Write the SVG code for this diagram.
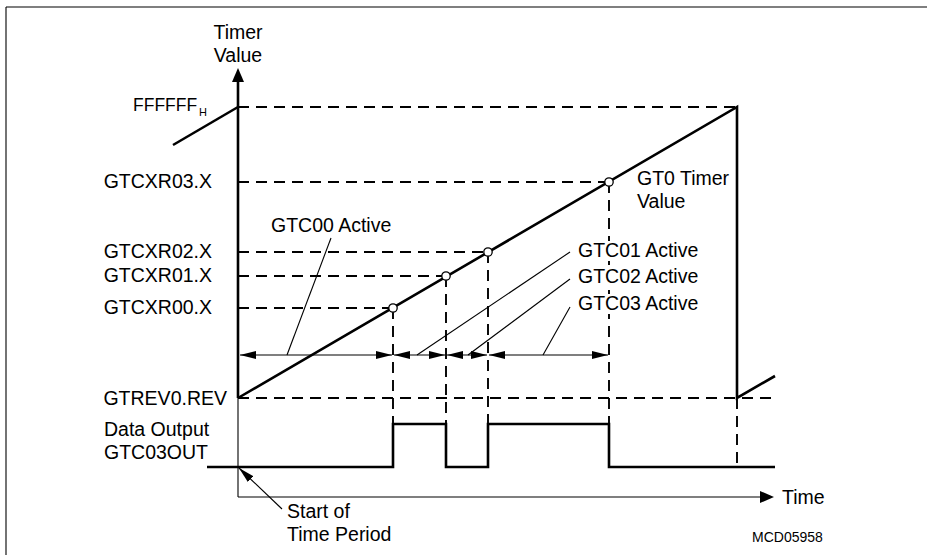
<svg xmlns="http://www.w3.org/2000/svg" width="927" height="555" viewBox="0 0 927 555">
<defs>
<style>
text{font-family:"Liberation Sans",Arial,sans-serif;font-size:19.5px;fill:#000}
.thick{stroke:#000;stroke-width:2.6;fill:none}
.thin{stroke:#000;stroke-width:1.1;fill:none}
.dash{stroke:#000;stroke-width:1.9;fill:none;stroke-dasharray:11 7}
.pt{fill:#fff;stroke:#000;stroke-width:1.3}
.ah{fill:#000}
.bg{fill:#fff;stroke:none}
</style>
<marker id="arr" viewBox="0 0 16 8" refX="16" refY="4" markerWidth="16" markerHeight="8" markerUnits="userSpaceOnUse" orient="auto-start-reverse">
<path d="M0,0 L16,4 L0,8 Z" fill="#000"/>
</marker>
</defs>
<g id="frame">
<line x1="6" y1="7" x2="927" y2="7" class="thin"/>
<line x1="6" y1="7" x2="6" y2="555" class="thin"/>
</g>
<g id="axes">
<line x1="238" y1="80" x2="238" y2="398" class="thick"/>
<path d="M238,68 L232,82 L244,82 Z" class="ah"/>
<line x1="238" y1="398" x2="238" y2="497" class="thin"/>
<line x1="238" y1="497" x2="762" y2="497" class="thin"/>
<path d="M774,497 L760,491 L760,503 Z" class="ah"/>
<text x="238" y="39" text-anchor="middle">Timer</text>
<text x="238" y="62" text-anchor="middle">Value</text>
<text x="782" y="504">Time</text>
</g>
<g id="levels">
<text x="133" y="111" style="font-size:17.5px">FFFFFF</text>
<text x="199" y="116" style="font-size:11px">H</text>
<text x="212" y="188" text-anchor="end">GTCXR03.X</text>
<text x="212" y="258" text-anchor="end">GTCXR02.X</text>
<text x="212" y="282" text-anchor="end">GTCXR01.X</text>
<text x="212" y="314" text-anchor="end">GTCXR00.X</text>
<text x="227" y="405" text-anchor="end">GTREV0.REV</text>
<text x="104" y="436">Data Output</text>
<text x="104" y="459">GTC03OUT</text>
</g>
<g id="connectors">
<line x1="238" y1="107" x2="737" y2="107" class="dash"/>
<line x1="238" y1="182" x2="609" y2="182" class="dash"/>
<line x1="238" y1="252" x2="488" y2="252" class="dash"/>
<line x1="238" y1="276" x2="446" y2="276" class="dash"/>
<line x1="238" y1="308" x2="393" y2="308" class="dash"/>
<line x1="238" y1="398" x2="775" y2="398" class="dash"/>
<line x1="393" y1="308" x2="393" y2="467" class="dash"/>
<line x1="446" y1="276" x2="446" y2="467" class="dash"/>
<line x1="488" y1="252" x2="488" y2="467" class="dash"/>
<line x1="609" y1="182" x2="609" y2="424" class="dash"/>
<line x1="737" y1="398" x2="737" y2="467" class="dash"/>
<line x1="240" y1="355" x2="392" y2="355" class="thin" marker-start="url(#arr)" marker-end="url(#arr)"/>
<line x1="394" y1="355" x2="445" y2="355" class="thin" marker-start="url(#arr)" marker-end="url(#arr)"/>
<line x1="447" y1="355" x2="487" y2="355" class="thin" marker-start="url(#arr)" marker-end="url(#arr)"/>
<line x1="489" y1="355" x2="608" y2="355" class="thin" marker-start="url(#arr)" marker-end="url(#arr)"/>
<line x1="331" y1="238" x2="287" y2="355" class="thin"/>
<line x1="570" y1="252" x2="417" y2="355" class="thin"/>
<line x1="570" y1="279" x2="468" y2="355" class="thin"/>
<line x1="570" y1="307" x2="543" y2="355" class="thin"/>
<line x1="282" y1="509" x2="239" y2="468" class="thin" marker-end="url(#arr)"/>
</g>
<g id="ramp">
<line x1="173" y1="145" x2="238" y2="107" class="thick"/>
<polyline points="238,398 737,107 737,398 775,376" class="thick" stroke-linejoin="miter"/>
<circle cx="393" cy="308" r="4.2" class="pt"/>
<circle cx="446" cy="276" r="4.2" class="pt"/>
<circle cx="488" cy="252" r="4.2" class="pt"/>
<circle cx="609" cy="182" r="4.2" class="pt"/>
<text x="637" y="185">GT0 Timer</text>
<text x="637" y="208">Value</text>
</g>
<g id="output">
<polyline points="207,467 393,467 393,424 446,424 446,467 488,467 488,424 609,424 609,467 775,467" class="thick"/>
</g>
<g id="labels">
<text x="271" y="232">GTC00 Active</text>
<rect x="600" y="241" width="102" height="20" class="bg"/>
<rect x="600" y="267" width="102" height="20" class="bg"/>
<rect x="600" y="294" width="102" height="20" class="bg"/>
<text x="578" y="257">GTC01 Active</text>
<text x="578" y="283">GTC02 Active</text>
<text x="578" y="310">GTC03 Active</text>
<text x="287" y="518">Start of</text>
<text x="287" y="541">Time Period</text>
<text x="752" y="542" style="font-size:14px">MCD05958</text>
</g>
</svg>
